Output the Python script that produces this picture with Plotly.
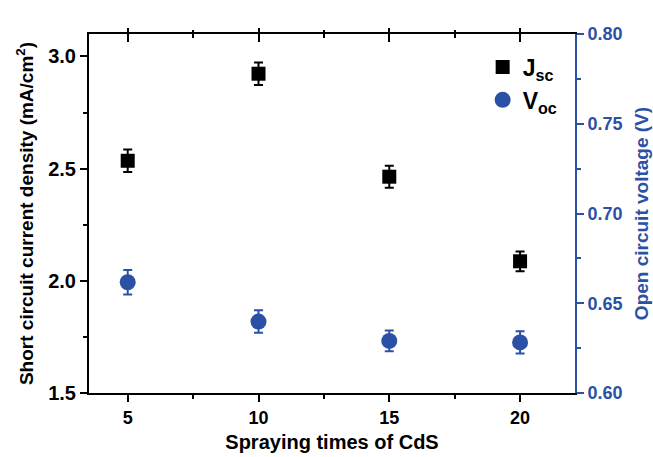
import plotly.graph_objects as go

spray_times = [5, 10, 15, 20]
jsc = [2.535, 2.923, 2.464, 2.087]
jsc_err = [0.05, 0.05, 0.049, 0.044]
voc = [0.6617, 0.6398, 0.6290, 0.6282]
voc_err = [0.0068, 0.0063, 0.0058, 0.0062]

BLUE = "#2A51A6"
FONT = "Liberation Sans, Arial, sans-serif"

fig = go.Figure()
fig.add_trace(go.Scatter(
    x=spray_times, y=jsc, mode="markers", name="J<sub>sc</sub>",
    marker=dict(symbol="square", size=14, color="black"),
    error_y=dict(type="data", array=jsc_err, color="black", thickness=2, width=4.5),
    yaxis="y"))
fig.add_trace(go.Scatter(
    x=spray_times, y=voc, mode="markers", name="V<sub>oc</sub>",
    marker=dict(symbol="circle", size=16, color=BLUE),
    error_y=dict(type="data", array=voc_err, color=BLUE, thickness=2, width=4.5),
    yaxis="y2"))

xr = [3.52, 22.1]
fig.update_layout(
    width=653, height=457,
    margin=dict(l=89, r=78, t=34, b=64),
    plot_bgcolor="white", paper_bgcolor="white",
    font=dict(family=FONT, color="black"),
    showlegend=True,
    legend=dict(x=0.81, y=0.968, xanchor="left", yanchor="top",
                font=dict(size=23, family=FONT, weight="bold"),
                bgcolor="rgba(0,0,0,0)", itemsizing="trace", tracegroupgap=0),
    xaxis=dict(
        range=xr, tickvals=[5, 10, 15, 20], showgrid=False, zeroline=False, automargin=False,
        showline=True, linecolor="black", linewidth=2,
        ticks="outside", ticklen=7, tickwidth=2, tickcolor="black",
        minor=dict(tickvals=[7.5, 12.5, 17.5], ticks="outside", ticklen=4, tickwidth=2, tickcolor="black"),
        tickfont=dict(size=18, family=FONT, weight="bold"),
        title=dict(text="Spraying times of CdS", font=dict(size=20, family=FONT, weight="bold"), standoff=8),
    ),
    xaxis2=dict(
        range=xr, overlaying="x", side="top", tickvals=[5, 10, 15, 20], showticklabels=False,
        showgrid=False, zeroline=False, showline=True, linecolor="black", linewidth=2, automargin=False,
        ticks="inside", ticklen=8, tickwidth=2, tickcolor="black",
        minor=dict(tickvals=[7.5, 12.5, 17.5], ticks="inside", ticklen=4, tickwidth=2, tickcolor="black"),
    ),
    xaxis3=dict(
        range=xr, overlaying="x", side="top", tickvals=[5, 10, 15, 20], showticklabels=False,
        showgrid=False, zeroline=False, showline=False, automargin=False,
        ticks="outside", ticklen=5, tickwidth=2, tickcolor="black",
        minor=dict(tickvals=[7.5, 12.5, 17.5], ticks="outside", ticklen=3, tickwidth=2, tickcolor="black"),
    ),
    yaxis=dict(
        range=[1.5, 3.1], tickvals=[1.5, 2.0, 2.5, 3.0], ticktext=["1.5", "2.0", "2.5", "3.0"],
        showgrid=False, zeroline=False, showline=True, linecolor="black", linewidth=2, automargin=False,
        ticks="outside", ticklen=7, tickwidth=2, tickcolor="black",
        minor=dict(tickvals=[1.75, 2.25, 2.75], ticks="outside", ticklen=4, tickwidth=2, tickcolor="black"),
        tickfont=dict(size=20, family=FONT, weight="bold"),
        title=dict(text="Short circuit current density (mA/cm<sup>2</sup>)",
                   font=dict(size=19, family=FONT, weight="bold"), standoff=10),
    ),
    yaxis2=dict(
        range=[0.6, 0.8], tickvals=[0.6, 0.65, 0.7, 0.75, 0.8],
        ticktext=["0.60", "0.65", "0.70", "0.75", "0.80"],
        overlaying="y", side="right", anchor="x", automargin=False,
        showgrid=False, zeroline=False, showline=True, linecolor=BLUE, linewidth=2,
        ticks="outside", ticklen=7, tickwidth=2, tickcolor=BLUE,
        minor=dict(tickvals=[0.625, 0.675, 0.725, 0.775], ticks="outside", ticklen=4, tickwidth=2, tickcolor=BLUE),
        tickfont=dict(size=18, family=FONT, weight="bold", color=BLUE),
        title=dict(text="Open circuit voltage (V)",
                   font=dict(size=19, family=FONT, weight="bold", color=BLUE), standoff=13),
    ),
)
# dummy traces to activate top axes
fig.add_trace(go.Scatter(x=[None], y=[None], xaxis="x2", yaxis="y", showlegend=False, hoverinfo="skip"))
fig.add_trace(go.Scatter(x=[None], y=[None], xaxis="x3", yaxis="y", showlegend=False, hoverinfo="skip"))

fig.write_html("out.html", config={"displayModeBar": False},
               post_script="document.body.style.margin='0';document.body.style.padding='0';")
